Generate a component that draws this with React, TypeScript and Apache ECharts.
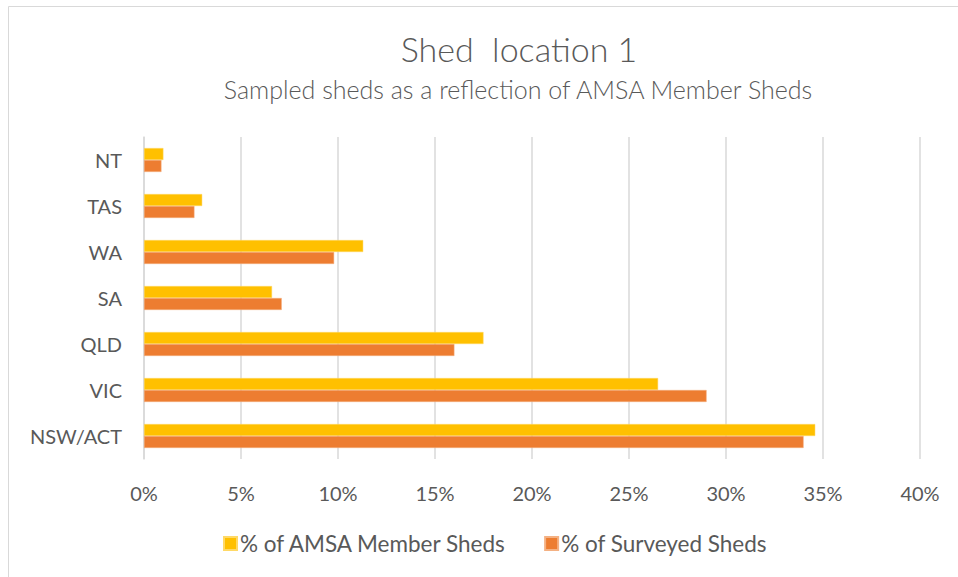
import React, { useEffect, useRef } from "react";
import * as echarts from "echarts";

const categories = ["NSW/ACT", "VIC", "QLD", "SA", "WA", "TAS", "NT"];
const amsaMember = [34.6, 26.5, 17.5, 6.6, 11.3, 3.0, 1.0];
const surveyed = [34.0, 29.0, 16.0, 7.1, 9.8, 2.6, 0.9];
const xTicks = { min: 0, max: 40, interval: 5 };

const FONT = "Lato, 'Open Sans', sans-serif";
const TEXT = "#595959";

export default function App() {
  const ref = useRef<HTMLDivElement>(null);
  useEffect(() => {
    document.body.style.margin = "0";
    const chart = echarts.init(ref.current!, undefined, { renderer: "svg" });
    chart.setOption({
      animation: false,
      backgroundColor: "#fff",
      textStyle: { fontFamily: FONT },
      graphic: [
        {
          type: "rect",
          shape: { x: 8.5, y: 6.5, width: 1000, height: 1000 },
          style: { fill: "none", stroke: "#D9D9D9", lineWidth: 1 },
          silent: true,
        },
      ],
      title: [
        {
          text: "Shed  location 1",
          left: 514,
          top: 26,
          textAlign: "center",
          textStyle: { fontFamily: FONT, fontSize: 34, fontWeight: 300, color: TEXT },
        },
        {
          text: "Sampled sheds as a reflection of AMSA Member Sheds",
          left: 513,
          top: 71,
          textAlign: "center",
          textStyle: { fontFamily: FONT, fontSize: 25, fontWeight: 300, color: TEXT },
        },
      ],
      legend: {
        data: ["% of AMSA Member Sheds", "% of Surveyed Sheds"],
        top: 527,
        left: 218,
        itemWidth: 13,
        itemHeight: 13,
        itemGap: 37,
        icon: "rect",
        textStyle: { fontFamily: FONT, fontSize: 22.5, color: TEXT, padding: [0, 0, 0, -2] },
      },
      grid: { left: 144, right: 38, top: 137, bottom: 118, containLabel: false },
      xAxis: {
        type: "value",
        min: xTicks.min,
        max: xTicks.max,
        interval: xTicks.interval,
        axisLabel: {
          formatter: "{value}%",
          fontFamily: FONT,
          fontSize: 20,
          color: TEXT,
          margin: 24,
        },
        axisLine: { show: false },
        axisTick: { show: false },
        splitLine: { lineStyle: { color: "#D9D9D9", width: 1.5 } },
      },
      yAxis: {
        type: "category",
        data: categories,
        axisLabel: { fontFamily: FONT, fontSize: 20, color: TEXT, margin: 22 },
        axisLine: { lineStyle: { color: "#D9D9D9", width: 1.5 } },
        axisTick: { show: false },
      },
      series: [
        {
          name: "% of AMSA Member Sheds",
          type: "bar",
          data: amsaMember,
          itemStyle: { color: "#FFC000", borderColor: "#FFD966", borderWidth: 0.5 },
          barGap: "0%",
          barCategoryGap: "48%",
        },
        {
          name: "% of Surveyed Sheds",
          type: "bar",
          data: surveyed,
          itemStyle: { color: "#ED7D31", borderColor: "#F4B183", borderWidth: 0.5 },
          barGap: "0%",
          barCategoryGap: "48%",
        },
      ],
    });
    return () => chart.dispose();
  }, []);
  return <div ref={ref} style={{ width: 958, height: 577 }} />;
}
